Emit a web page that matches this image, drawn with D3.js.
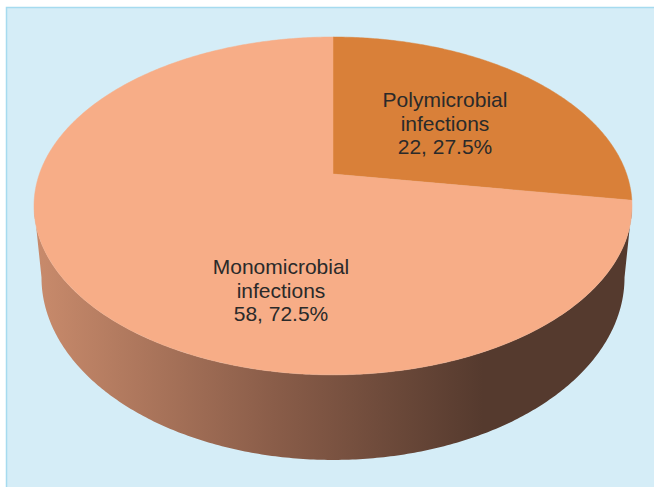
<!DOCTYPE html>
<html>
<head>
<meta charset="utf-8">
<script src="https://cdn.jsdelivr.net/npm/d3@7"></script>
<style>
  html, body { margin: 0; padding: 0; background: #ffffff; }
  svg { display: block; }
</style>
</head>
<body>
<div id="chart"></div>
<script>
// Infection types, 3D pie
var categories = ["Polymicrobial infections", "Monomicrobial infections"];
var counts = [22, 58];
var percents = ["27.5%", "72.5%"];
var sliceColors = ["#d98039", "#f7ad87"];

var W = 654, H = 487;

var svg = d3.select("#chart").append("svg")
    .attr("width", W).attr("height", H);

// panel background
svg.append("rect")
    .attr("x", 6.5).attr("y", 7.5)
    .attr("width", W).attr("height", H)
    .attr("fill", "#d5edf7")
    .attr("stroke", "#a6dbef")
    .attr("stroke-width", 1.5);

// perspective projection of the pie disc
var cx = 333, cy = 174;   // projected pie centre
var A = 293.6, B = 162.9; // horizontal / depth radii
var k = 0.189;            // perspective strength
var depth = 69;           // wall thickness
var bottomScale = 0.975;  // bottom rim narrows slightly

function proj(theta, r) {
    var u = r * Math.sin(theta), v = -r * Math.cos(theta);
    var w = 1 - k * v;
    return [cx + A * u / w, cy + B * v / w, w];
}
function projBottom(theta) {
    var p = proj(theta, 1);
    return [cx + (p[0] - cx) * bottomScale, p[1] + depth / p[2]];
}
function arcPoints(a0, a1, fn) {
    var n = Math.max(2, Math.ceil(Math.abs(a1 - a0) / 0.01));
    return d3.range(n + 1).map(function (i) { return fn(a0 + (a1 - a0) * i / n); });
}

var pie = d3.pie().sort(null).startAngle(0).endAngle(2 * Math.PI);
var arcs = pie(counts);
var line = d3.line();

// side wall gradient
var defs = svg.append("defs");
var grad = defs.append("linearGradient")
    .attr("id", "wall")
    .attr("gradientUnits", "userSpaceOnUse")
    .attr("x1", cx - A / Math.sqrt(1 - k * k)).attr("x2", cx + A / Math.sqrt(1 - k * k))
    .attr("y1", 0).attr("y2", 0);
grad.append("stop").attr("offset", "0%").attr("stop-color", "#c98b6c");
grad.append("stop").attr("offset", "40%").attr("stop-color", "#8a5d49");
grad.append("stop").attr("offset", "75%").attr("stop-color", "#553a2e");
grad.append("stop").attr("offset", "100%").attr("stop-color", "#553a2e");

// visible wall runs between the silhouette extremes
var thR = Math.acos(-k), thL = 2 * Math.PI - Math.acos(-k);
arcs.forEach(function (d) {
    var a0 = Math.max(d.startAngle, thR), a1 = Math.min(d.endAngle, thL);
    if (a1 <= a0) return;
    var top = arcPoints(a0, a1, function (t) { return proj(t, 1).slice(0, 2); });
    var bot = arcPoints(a1, a0, projBottom);
    svg.append("path")
        .attr("d", line(top.concat(bot)) + "Z")
        .attr("fill", "url(#wall)");
});

// top faces
arcs.forEach(function (d, i) {
    var pts = [[cx, cy]].concat(arcPoints(d.startAngle, d.endAngle, function (t) {
        return proj(t, 1).slice(0, 2);
    }));
    svg.append("path")
        .attr("d", line(pts) + "Z")
        .attr("fill", sliceColors[i])
        .attr("stroke", sliceColors[i])
        .attr("stroke-width", 0.5);
});

// labels
var labelPos = [[445, 107], [281, 274]];
arcs.forEach(function (d, i) {
    var words = categories[i].split(" ");
    var lines = [words[0], words[1], counts[i] + ", " + percents[i]];
    var t = svg.append("text")
        .attr("x", labelPos[i][0]).attr("y", labelPos[i][1])
        .attr("text-anchor", "middle")
        .attr("font-family", "'Liberation Sans', Arial, sans-serif")
        .attr("font-size", "21px")
        .attr("fill", "#2a2a2a");
    lines.forEach(function (s, j) {
        t.append("tspan")
            .attr("x", labelPos[i][0])
            .attr("dy", j === 0 ? 0 : 23.5)
            .text(s);
    });
});
</script>
</body>
</html>
